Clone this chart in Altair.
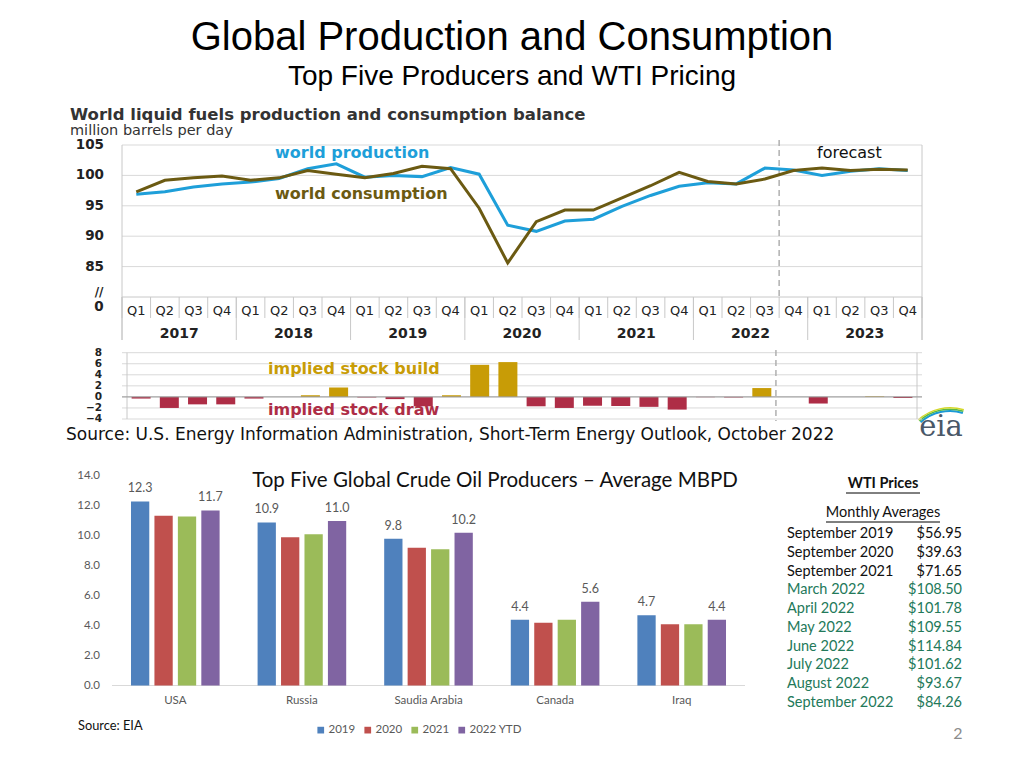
import altair as alt
import pandas as pd

# ---------------- data ----------------
quarters = ["Q1", "Q2", "Q3", "Q4"]
years = ["2017", "2018", "2019", "2020", "2021", "2022", "2023"]
world_production = [96.9, 97.3, 98.1, 98.6, 98.9, 99.5, 101.1, 101.9,
                    99.7, 100.0, 99.8, 101.3, 100.2, 91.8, 90.8, 92.5,
                    92.8, 94.9, 96.7, 98.2, 98.8, 98.6, 101.2, 100.9,
                    100.0, 100.7, 101.1, 100.8]
world_consumption = [97.3, 99.2, 99.6, 99.9, 99.2, 99.6, 100.8, 100.2,
                     99.6, 100.3, 101.5, 101.1, 94.6, 85.6, 92.4, 94.3,
                     94.3, 96.3, 98.3, 100.5, 99.0, 98.6, 99.4, 100.8,
                     101.2, 100.8, 101.0, 100.9]
stock_change = [-0.3, -2.0, -1.35, -1.35, -0.3, 0.0, 0.3, 1.7,
                -0.1, -0.4, -1.7, 0.3, 5.8, 6.3, -1.7, -2.0,
                -1.6, -1.65, -1.8, -2.3, -0.05, -0.1, 1.6, 0.0,
                -1.2, 0.0, 0.1, -0.2]
forecast_start = 22.5          # boundary between 2022 Q3 and Q4 (quarter index)
line_ticks = [85, 90, 95, 100, 105]
stock_ticks = [8, 6, 4, 2, 0, -2, -4]

countries = ["USA", "Russia", "Saudia Arabia", "Canada", "Iraq"]
series = ["2019", "2020", "2021", "2022 YTD"]
prod_2019 = [12.3, 10.9, 9.8, 4.4, 4.7]
prod_2020 = [11.35, 9.9, 9.2, 4.2, 4.1]
prod_2021 = [11.3, 10.1, 9.1, 4.4, 4.1]
prod_2022 = [11.7, 11.0, 10.2, 5.6, 4.4]
bar_ticks = [0, 2, 4, 6, 8, 10, 12, 14]

wti_months = ["September 2019", "September 2020", "September 2021", "March 2022",
              "April 2022", "May 2022", "June 2022", "July 2022", "August 2022",
              "September 2022"]
wti_prices = ["$56.95", "$39.63", "$71.65", "$108.50", "$101.78", "$109.55",
              "$114.84", "$101.62", "$93.67", "$84.26"]

# ---------------- tables ----------------
nq = len(world_production)
qdf = pd.DataFrame({
    "idx": list(range(nq)),
    "quarter": [quarters[i % 4] for i in range(nq)],
    "production": world_production,
    "consumption": world_consumption,
    "stock": stock_change,
})
ydf = pd.DataFrame({"year": years, "center": [4 * k + 1.5 for k in range(len(years))]})
qbound = pd.DataFrame({"b": [i - 0.5 for i in range(nq + 1)]})
ybound = pd.DataFrame({"b": [4 * k - 0.5 for k in range(len(years) + 1)]})
edge = pd.DataFrame({"b": [-0.5, nq - 0.5]})
lt = pd.DataFrame({"v": line_ticks})
st = pd.DataFrame({"v": stock_ticks})
bt = pd.DataFrame({"v": bar_ticks})

rows = []
for s, vals in zip(series, [prod_2019, prod_2020, prod_2021, prod_2022]):
    for c, v in zip(countries, vals):
        rows.append({"country": c, "series": s, "value": v})
bdf = pd.DataFrame(rows)
wdf = pd.DataFrame({"month": wti_months, "price": wti_prices})

# page coordinate helper (page has an 8px margin)
def P(v):
    return v - 8

def label(text, x, y, size, color="#000000", weight="normal",
          font="DejaVu Sans", align="left", baseline="middle"):
    return alt.Chart(pd.DataFrame({"t": [text]})).mark_text(
        align=align, baseline=baseline, font=font, fontSize=size,
        fontWeight=weight, color=color
    ).encode(x=alt.value(P(x)), y=alt.value(P(y)), text="t:N")

def hline(x1, x2, y, color="#000000", width=1):
    return alt.Chart(pd.DataFrame({"a": [0]})).mark_rule(
        color=color, strokeWidth=width
    ).encode(x=alt.value(P(x1)), x2=alt.value(P(x2)), y=alt.value(P(y)))

# ---------------- colours ----------------
BLUE = "#1e9fd9"
OLIVE = "#6b5a12"
GOLD = "#c89c06"
CRIMSON = "#ae2d46"
GRID = "#d9d9d9"
FRAME = "#c8c8c8"
EIA_TXT = "#333333"

# ---------------- top line chart ----------------
X_LINE = alt.Scale(domain=[-0.5, nq - 0.5], range=[P(122), P(922)], nice=False, zero=False)
Y_LINE = alt.Scale(domain=[80, 105], range=[P(297), P(145)], nice=False, zero=False)

grid = alt.Chart(lt).mark_rule(color=GRID).encode(
    y=alt.Y("v:Q", scale=Y_LINE, axis=None),
    x=alt.value(P(122)), x2=alt.value(P(922)))
bottom = alt.Chart(pd.DataFrame({"v": [80]})).mark_rule(color=FRAME).encode(
    y=alt.Y("v:Q", scale=Y_LINE, axis=None),
    x=alt.value(P(122)), x2=alt.value(P(922)))
ylab = alt.Chart(lt).mark_text(align="right", baseline="middle", font="DejaVu Sans",
                               fontSize=13.5, fontWeight="bold", color="#222222").encode(
    y=alt.Y("v:Q", scale=Y_LINE, axis=None), x=alt.value(P(104)), text="v:Q")
edges = alt.Chart(edge).mark_rule(color=FRAME).encode(
    x=alt.X("b:Q", scale=X_LINE, axis=None), y=alt.value(P(145)), y2=alt.value(P(340)))
qticks = alt.Chart(qbound).mark_rule(color=FRAME).encode(
    x=alt.X("b:Q", scale=X_LINE, axis=None), y=alt.value(P(297)), y2=alt.value(P(318)))
yticks = alt.Chart(ybound).mark_rule(color=FRAME).encode(
    x=alt.X("b:Q", scale=X_LINE, axis=None), y=alt.value(P(297)), y2=alt.value(P(340)))
fc_line = alt.Chart(pd.DataFrame({"b": [forecast_start]})).mark_rule(
    color="#b0b0b0", strokeDash=[6, 4], strokeWidth=1.5).encode(
    x=alt.X("b:Q", scale=X_LINE, axis=None), y=alt.value(P(140)), y2=alt.value(P(297)))
prod_line = alt.Chart(qdf).mark_line(color=BLUE, strokeWidth=3).encode(
    x=alt.X("idx:Q", scale=X_LINE, axis=None),
    y=alt.Y("production:Q", scale=Y_LINE, axis=None))
cons_line = alt.Chart(qdf).mark_line(color=OLIVE, strokeWidth=3).encode(
    x=alt.X("idx:Q", scale=X_LINE, axis=None),
    y=alt.Y("consumption:Q", scale=Y_LINE, axis=None))
qlab = alt.Chart(qdf).mark_text(baseline="middle", font="DejaVu Sans", fontSize=13,
                                color="#222222").encode(
    x=alt.X("idx:Q", scale=X_LINE, axis=None), y=alt.value(P(311)), text="quarter:N")
ylab2 = alt.Chart(ydf).mark_text(baseline="middle", font="DejaVu Sans", fontSize=14,
                                 fontWeight="bold", color="#222222").encode(
    x=alt.X("center:Q", scale=X_LINE, axis=None), y=alt.value(P(334)), text="year:N")

line_group = alt.layer(
    grid, bottom, edges, qticks, yticks, fc_line, prod_line, cons_line, ylab, qlab, ylab2,
    label("//", 99, 292, 12, "#222222", "bold", align="center"),
    label("0", 99, 307, 13.5, "#222222", "bold", align="center"),
    label("world production", 275, 153, 16, BLUE, "bold"),
    label("world consumption", 275, 194, 16, OLIVE, "bold"),
    label("forecast", 817, 153, 16, "#111111", "normal"),
)

# ---------------- stock build / draw ----------------
X_ST = alt.Scale(domain=[-0.5, nq - 0.5], range=[P(122), P(922)], nice=False, zero=False)
Y_ST = alt.Scale(domain=[-4, 8], range=[P(419), P(352.7)], nice=False, zero=False)

st_grid = alt.Chart(st).mark_rule(color=GRID).encode(
    y=alt.Y("v:Q", scale=Y_ST, axis=None), x=alt.value(P(122)), x2=alt.value(P(922)))
st_edges = alt.Chart(edge).mark_rule(color=FRAME).encode(
    x=alt.X("b:Q", scale=X_ST, axis=None), y=alt.value(P(352.7)), y2=alt.value(P(419)))
st_bars = alt.Chart(qdf).mark_bar(size=19).encode(
    x=alt.X("idx:Q", scale=X_ST, axis=None),
    y=alt.Y("stock:Q", scale=Y_ST, axis=None),
    color=alt.condition(alt.datum.stock > 0, alt.value(GOLD), alt.value(CRIMSON)))
st_zero = alt.Chart(pd.DataFrame({"v": [0]})).mark_rule(color="#9a9a9a").encode(
    y=alt.Y("v:Q", scale=Y_ST, axis=None), x=alt.value(P(122)), x2=alt.value(P(922)))
st_fc = alt.Chart(pd.DataFrame({"b": [forecast_start]})).mark_rule(
    color="#b0b0b0", strokeDash=[6, 4], strokeWidth=1.5).encode(
    x=alt.X("b:Q", scale=X_ST, axis=None), y=alt.value(P(350)), y2=alt.value(P(421)))
st_lab = alt.Chart(st).mark_text(align="right", baseline="middle", font="DejaVu Sans",
                                 fontSize=10.5, fontWeight="bold", color="#222222").encode(
    y=alt.Y("v:Q", scale=Y_ST, axis=None), x=alt.value(P(102)), text="v:Q")

stock_group = alt.layer(
    st_grid, st_edges, st_bars, st_zero, st_fc, st_lab,
    label("implied stock  build", 268, 369, 16, GOLD, "bold"),
    label("implied stock draw", 268, 410, 16, CRIMSON, "bold"),
)

# ---------------- EIA figure texts ----------------
eia_text = alt.layer(
    label("World liquid fuels production and consumption balance", 70, 114.5, 16.5, EIA_TXT, "bold"),
    label("million barrels per day", 70, 130.5, 14.5, EIA_TXT, "normal"),
    label("Source: U.S. Energy Information Administration, Short-Term Energy Outlook, October 2022",
          66, 434.5, 17, "#111111", "normal"),
    label("eia", 941, 436, 29, "#4a5868", "normal", font="DejaVu Serif", align="center",
          baseline="alphabetic"),
)

def arc(inner, outer, color):
    return alt.Chart(pd.DataFrame({"a": [0]})).mark_arc(
        theta=5.55, theta2=6.58, innerRadius=inner, outerRadius=outer, color=color
    ).encode(x=alt.value(P(950)), y=alt.value(P(455)))

logo = alt.layer(arc(43, 45, "#1b9ad6"), arc(45, 46.5, "#57b947"), arc(46.5, 48, "#d4d82a"))

# ---------------- producers bar chart ----------------
X_BAR = alt.Scale(domain=countries, range=[P(112), P(745)], paddingInner=0.3, paddingOuter=0.15)
Y_BAR = alt.Scale(domain=[0, 14], range=[P(685.5), P(476)], nice=False)
XO = alt.Scale(domain=series, paddingInner=0.22)
COL = alt.Scale(domain=series, range=["#4f81bd", "#c0504d", "#9bbb59", "#8064a2"])

b_base = alt.Chart(pd.DataFrame({"v": [0]})).mark_rule(color="#d9d9d9").encode(
    y=alt.Y("v:Q", scale=Y_BAR, axis=None), x=alt.value(P(112)), x2=alt.value(P(745)))
b_ticks = alt.Chart(bt).mark_text(align="right", baseline="middle", font="Lato",
                                  fontSize=11.5, color="#595959").encode(
    y=alt.Y("v:Q", scale=Y_BAR, axis=None), x=alt.value(P(100)),
    text=alt.Text("v:Q", format=".1f"))
bars = alt.Chart(bdf).mark_bar().encode(
    x=alt.X("country:N", scale=X_BAR, axis=None, sort=countries),
    xOffset=alt.XOffset("series:N", scale=XO, sort=series),
    y=alt.Y("value:Q", scale=Y_BAR, axis=None),
    color=alt.Color("series:N", scale=COL, sort=series,
                    legend=alt.Legend(orient="none", legendX=P(315), legendY=P(724),
                                      direction="horizontal", title=None,
                                      symbolType="square", symbolSize=45,
                                      symbolStrokeWidth=0, labelFont="Lato",
                                      labelFontSize=11.5, labelColor="#595959",
                                      columnPadding=6, labelOffset=2, padding=0)))
b_vals = alt.Chart(bdf).transform_filter(
    "datum.series == '2019' || datum.series == '2022 YTD'"
).mark_text(baseline="bottom", dy=-6, font="Lato", fontSize=12.5, color="#595959").encode(
    x=alt.X("country:N", scale=X_BAR, axis=None, sort=countries),
    xOffset=alt.XOffset("series:N", scale=XO, sort=series),
    y=alt.Y("value:Q", scale=Y_BAR, axis=None),
    text=alt.Text("value:Q", format=".1f"))
b_cats = alt.Chart(pd.DataFrame({"country": countries})).mark_text(
    baseline="middle", font="Lato", fontSize=11.5, color="#595959").encode(
    x=alt.X("country:N", scale=X_BAR, axis=None, sort=countries),
    y=alt.value(P(701)), text="country:N")

bar_group = alt.layer(
    b_base, bars, b_ticks, b_vals, b_cats,
    label("Top Five Global Crude Oil Producers \u2013 Average MBPD", 495, 481, 20.5,
          "#111111", "normal", font="Lato", align="center"),
    label("Source: EIA", 78, 726, 12.8, "#111111", "normal", font="Lato"),
)

# ---------------- WTI prices panel ----------------
Y_W = alt.Scale(type="point", domain=wti_months, range=[P(534), P(703)], padding=0)
w_col = alt.condition("indexof(datum.month, '2022') < 0", alt.value("#111111"), alt.value("#23795a"))
w_left = alt.Chart(wdf).mark_text(align="left", baseline="middle", font="Lato", fontSize=14.5).encode(
    y=alt.Y("month:N", scale=Y_W, axis=None, sort=wti_months),
    x=alt.value(P(787)), text="month:N", color=w_col)
w_right = alt.Chart(wdf).mark_text(align="right", baseline="middle", font="Lato", fontSize=14.5).encode(
    y=alt.Y("month:N", scale=Y_W, axis=None, sort=wti_months),
    x=alt.value(P(962)), text="price:N", color=w_col)

wti_group = alt.layer(
    w_left, w_right,
    label("WTI Prices", 883, 484, 14.5, "#111111", "bold", font="Lato", align="center"),
    hline(846, 920, 493),
    label("Monthly Averages", 883, 513, 14.5, "#111111", "normal", font="Lato", align="center"),
    hline(826, 940, 522),
    label("2", 958, 734, 16, "#8c8c8c", "normal", font="Lato", align="center"),
)

# ---------------- slide titles ----------------
titles = alt.layer(
    label("Global Production and Consumption", 512, 50, 40, "#000000", "normal",
          font="Liberation Sans", align="center", baseline="alphabetic"),
    label("Top Five Producers and WTI Pricing", 512, 85, 28, "#000000", "normal",
          font="Liberation Sans", align="center", baseline="alphabetic"),
)

chart = alt.layer(
    titles, eia_text, logo, line_group, stock_group, bar_group, wti_group
).resolve_scale(
    x="independent", y="independent"
).properties(
    width=1008, height=752, padding=0,
    autosize=alt.AutoSizeParams(type="none")
).configure_view(stroke=None)

chart.save("out.html", embed_options={"renderer": "svg", "actions": False})
